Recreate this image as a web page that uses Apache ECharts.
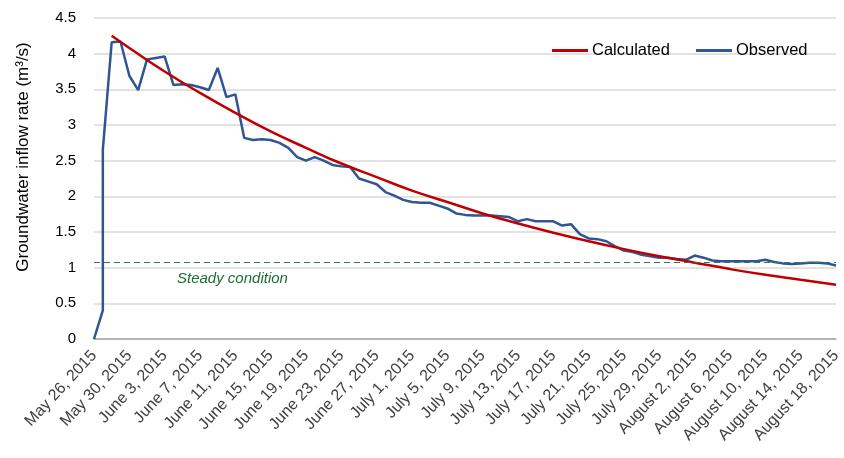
<!DOCTYPE html>
<html>
<head>
<meta charset="utf-8">
<script src="https://cdn.jsdelivr.net/npm/echarts@6/dist/echarts.min.js"></script>
<style>
    html, body {margin: 0;padding: 0;background: #fff;}
    #chart {width: 844px;height: 458px;}
</style>
</head>
<body>
<div id="chart"></div>
<script>
// tick labels, one every 4 days starting May 26 (day 0)
var tickLabels = ['May 26, 2015', 'May 30, 2015', 'June 3, 2015', 'June 7, 2015', 'June 11, 2015',
    'June 15, 2015', 'June 19, 2015', 'June 23, 2015', 'June 27, 2015', 'July 1, 2015', 'July 5, 2015',
    'July 9, 2015', 'July 13, 2015', 'July 17, 2015', 'July 21, 2015', 'July 25, 2015', 'July 29, 2015',
    'August 2, 2015', 'August 6, 2015', 'August 10, 2015', 'August 14, 2015', 'August 18, 2015'];

// observed: day index and value (m3/s)
var obsDays = [0, 1, 1, 2, 3, 4, 5, 6, 7, 8, 9, 10, 11, 12, 13, 14, 15, 16, 17, 18, 19, 20,
    21, 22, 23, 24, 25, 26, 27, 28, 29, 30, 31, 32, 33, 34, 35, 36, 37, 38, 39, 40,
    41, 42, 43, 44, 45, 46, 47, 48, 49, 50, 51, 52, 53, 54, 55, 56, 57, 58, 59, 60,
    61, 62, 63, 64, 65, 66, 67, 68, 69, 70, 71, 72, 73, 74, 75, 76, 77, 78, 79, 80,
    81, 82, 83, 84];
var obsValues = [0, 0.40, 2.65, 4.16, 4.17, 3.69, 3.49, 3.92, 3.94, 3.96, 3.56, 3.57, 3.56, 3.53, 3.49, 3.80, 3.39, 3.43, 2.82, 2.79, 2.80, 2.79,
    2.75, 2.68, 2.55, 2.50, 2.55, 2.50, 2.44, 2.42, 2.41, 2.25, 2.21, 2.17, 2.06, 2.01, 1.95, 1.92, 1.91, 1.91, 1.87, 1.83,
    1.76, 1.74, 1.73, 1.73, 1.73, 1.72, 1.71, 1.65, 1.68, 1.65, 1.65, 1.65, 1.59, 1.61, 1.47, 1.41, 1.40, 1.37, 1.30, 1.24,
    1.22, 1.18, 1.16, 1.14, 1.14, 1.12, 1.11, 1.17, 1.14, 1.10, 1.09, 1.09, 1.09, 1.09, 1.09, 1.11, 1.08, 1.06, 1.05, 1.06,
    1.07, 1.07, 1.06, 1.03];

// calculated curve
var calcDays = [2, 4, 8, 12, 16, 20, 24, 28, 32, 36, 40, 44, 48, 52, 56, 60, 64, 68, 72, 76, 80, 84];
var calcValues = [4.25, 4.08, 3.75, 3.45, 3.17, 2.91, 2.68, 2.46, 2.27, 2.08, 1.92, 1.76, 1.62, 1.49, 1.37, 1.26, 1.16, 1.07, 0.98, 0.90, 0.83, 0.76];

var steadyValue = 1.07;

function pairs(xs, ys) {
    return xs.map(function (x, i) { return [x, ys[i]]; });
}

var myChart = echarts.init(document.getElementById('chart'));
myChart.setOption({
    animation: false,
    textStyle: {fontFamily: 'Liberation Sans, Arial, sans-serif'},
    grid: {left: 94, right: 8, top: 18, bottom: 119},
    legend: {
        left: 552,
        top: 42,
        padding: 0,
        itemGap: 26,
        itemWidth: 36,
        itemHeight: 3,
        textStyle: {fontSize: 16.5, color: '#000', padding: [0, 0, 0, -1]},
        data: [
            {name: 'Calculated', icon: 'rect'},
            {name: 'Observed', icon: 'rect'}
        ]
    },
    xAxis: {
        type: 'value',
        min: 0,
        max: 84,
        interval: 4,
        splitLine: {show: false},
        axisTick: {show: false},
        axisLine: {lineStyle: {color: '#a6a6a6', width: 1.5}},
        axisLabel: {
            rotate: 47,
            fontSize: 16,
            color: '#404040',
            margin: 14,
            formatter: function (v) { return tickLabels[Math.round(v / 4)]; }
        }
    },
    yAxis: {
        type: 'value',
        min: 0,
        max: 4.5,
        interval: 0.5,
        axisLine: {show: false},
        axisTick: {show: false},
        axisLabel: {fontSize: 15, color: '#000', margin: 18},
        splitLine: {lineStyle: {color: '#d9d9d9', width: 1.5}}
    },
    series: [
        {
            name: 'Calculated',
            type: 'line',
            smooth: true,
            symbol: 'none',
            color: '#c00000',
            lineStyle: {width: 2.5},
            data: pairs(calcDays, calcValues),
            z: 3
        },
        {
            name: 'Observed',
            type: 'line',
            symbol: 'none',
            color: '#2f5597',
            lineStyle: {width: 2.5},
            data: pairs(obsDays, obsValues),
            z: 2,
            markLine: {
                silent: true,
                symbol: 'none',
                label: {show: false},
                lineStyle: {color: '#2e7d4f', type: [6, 4], width: 1},
                data: [{yAxis: steadyValue}]
            }
        }
    ],
    graphic: [
        {
            type: 'text',
            x: 23,
            y: 157,
            rotation: Math.PI / 2,
            style: {
                text: 'Groundwater inflow rate (m³/s)',
                fill: '#000',
                font: '17px "Liberation Sans", Arial, sans-serif',
                textAlign: 'center',
                textVerticalAlign: 'middle'
            }
        },
        {
            type: 'text',
            left: 177,
            top: 271,
            style: {
                text: 'Steady condition',
                fill: '#1b6e35',
                font: 'italic 15px "Liberation Sans", Arial, sans-serif'
            }
        }
    ]
});
</script>
</body>
</html>
